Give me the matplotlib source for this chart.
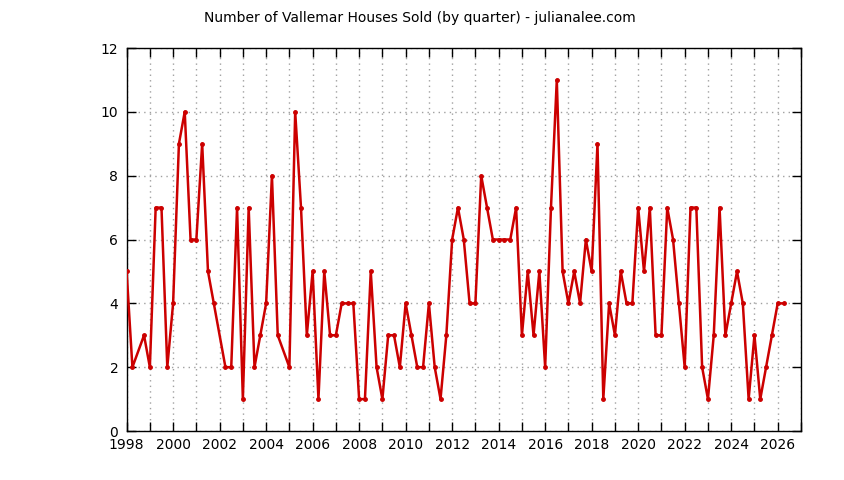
import matplotlib
matplotlib.use('Agg')
import matplotlib.pyplot as plt
from matplotlib.ticker import MultipleLocator, FuncFormatter

# Fecha (año decimal, inicio de trimestre) y casas vendidas
fechas = [1998.0, 1998.25, 1998.75, 1999.0, 1999.25, 1999.5, 1999.75,
          2000.0, 2000.25, 2000.5, 2000.75, 2001.0, 2001.25, 2001.5, 2001.75,
          2002.25, 2002.5, 2002.75, 2003.0, 2003.25, 2003.5, 2003.75,
          2004.0, 2004.25, 2004.5, 2005.0, 2005.25, 2005.5, 2005.75,
          2006.0, 2006.25, 2006.5, 2006.75, 2007.0, 2007.25, 2007.5, 2007.75,
          2008.0, 2008.25, 2008.5, 2008.75, 2009.0, 2009.25, 2009.5, 2009.75,
          2010.0, 2010.25, 2010.5, 2010.75, 2011.0, 2011.25, 2011.5, 2011.75,
          2012.0, 2012.25, 2012.5, 2012.75, 2013.0, 2013.25, 2013.5, 2013.75,
          2014.0, 2014.25, 2014.5, 2014.75, 2015.0, 2015.25, 2015.5, 2015.75,
          2016.0, 2016.25, 2016.5, 2016.75, 2017.0, 2017.25, 2017.5, 2017.75,
          2018.0, 2018.25, 2018.5, 2018.75, 2019.0, 2019.25, 2019.5, 2019.75,
          2020.0, 2020.25, 2020.5, 2020.75, 2021.0, 2021.25, 2021.5, 2021.75,
          2022.0, 2022.25, 2022.5, 2022.75, 2023.0, 2023.25, 2023.5, 2023.75,
          2024.0, 2024.25, 2024.5, 2024.75, 2025.0, 2025.25, 2025.5, 2025.75,
          2026.0, 2026.25]
vendidas = [5, 2, 3, 2, 7, 7, 2,
            4, 9, 10, 6, 6, 9, 5, 4,
            2, 2, 7, 1, 7, 2, 3,
            4, 8, 3, 2, 10, 7, 3,
            5, 1, 5, 3, 3, 4, 4, 4,
            1, 1, 5, 2, 1, 3, 3, 2,
            4, 3, 2, 2, 4, 2, 1, 3,
            6, 7, 6, 4, 4, 8, 7, 6,
            6, 6, 6, 7, 3, 5, 3, 5,
            2, 7, 11, 5, 4, 5, 4, 6,
            5, 9, 1, 4, 3, 5, 4, 4,
            7, 5, 7, 3, 3, 7, 6, 4,
            2, 7, 7, 2, 1, 3, 7, 3,
            4, 5, 4, 1, 3, 1, 2, 3,
            4, 4]

titulo = 'Number of Vallemar Houses Sold (by quarter) - julianalee.com'

plt.rcParams['font.family'] = 'DejaVu Sans'

fig = plt.figure(figsize=(8.44, 4.8), dpi=100)
ax = fig.add_axes([0.150, 0.102, 0.799, 0.798])

ax.plot(fechas, vendidas, '-', color='#cc0000', lw=1.8, marker='o', ms=2.5,
        zorder=3)

ax.set_xlim(1998, 2027)
ax.set_ylim(0, 12)
ax.xaxis.set_major_locator(MultipleLocator(2))
ax.xaxis.set_minor_locator(MultipleLocator(1))
ax.xaxis.set_major_formatter(FuncFormatter(lambda v, p: '%d' % v))
ax.yaxis.set_major_locator(MultipleLocator(2))

ax.tick_params(which='both', direction='in', length=6.5, width=1,
               top=True, right=True, labelsize=10, colors='black')
ax.tick_params(axis='x', pad=5)
ax.tick_params(axis='y', pad=6)

ax.grid(True, which='both', axis='x', color='#a0a0a0', lw=1,
        linestyle=(0, (1, 3)))
ax.grid(True, which='major', axis='y', color='#a0a0a0', lw=1,
        linestyle=(0, (1, 3)))
for s in ax.spines.values():
    s.set_linewidth(1.0)

fig.text(0.497, 0.962, titulo, ha='center', va='center', fontsize=10)

fig.savefig('out.png', dpi=100)
